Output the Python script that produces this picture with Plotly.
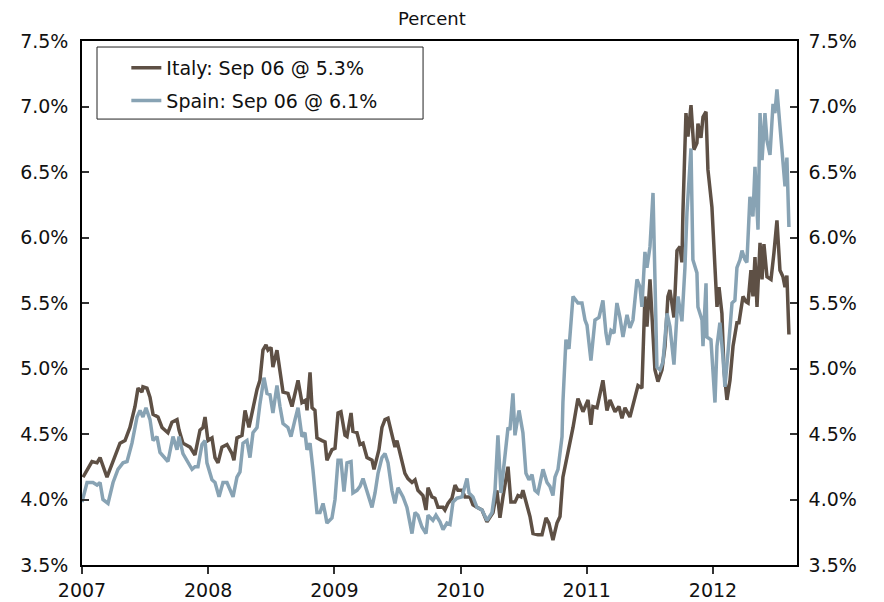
import plotly.graph_objects as go

# Decimal-year dates and 10y yields (percent)
italy_t = [2007.008, 2007.079, 2007.119, 2007.143, 2007.198, 2007.246, 2007.301, 2007.341, 2007.380, 2007.420,
           2007.444, 2007.475, 2007.483, 2007.515, 2007.539, 2007.563, 2007.602, 2007.634, 2007.681, 2007.713,
           2007.753, 2007.769, 2007.800, 2007.856, 2007.895, 2007.935, 2007.959, 2007.975, 2007.998, 2008.030,
           2008.054, 2008.078, 2008.109, 2008.149, 2008.189, 2008.204, 2008.228, 2008.268, 2008.292, 2008.323,
           2008.355, 2008.387, 2008.410, 2008.434, 2008.458, 2008.474, 2008.498, 2008.513, 2008.545, 2008.569,
           2008.593, 2008.632, 2008.664, 2008.712, 2008.743, 2008.775, 2008.783, 2008.807, 2008.823, 2008.846,
           2008.862, 2008.902, 2008.926, 2008.941, 2008.981, 2009.005, 2009.029, 2009.052, 2009.084, 2009.100,
           2009.132, 2009.147, 2009.179, 2009.203, 2009.227, 2009.258, 2009.298, 2009.314, 2009.338, 2009.353,
           2009.377, 2009.401, 2009.425, 2009.456, 2009.480, 2009.496, 2009.536, 2009.559, 2009.583, 2009.615,
           2009.639, 2009.662, 2009.702, 2009.726, 2009.742, 2009.773, 2009.797, 2009.821, 2009.861, 2009.876,
           2009.900, 2009.932, 2009.956, 2009.979, 2010.011, 2010.035, 2010.074, 2010.098, 2010.130, 2010.170,
           2010.209, 2010.233, 2010.257, 2010.288, 2010.312, 2010.336, 2010.376, 2010.399, 2010.431, 2010.455,
           2010.479, 2010.494, 2010.526, 2010.550, 2010.574, 2010.613, 2010.645, 2010.677, 2010.700, 2010.732,
           2010.764, 2010.788, 2010.811, 2010.851, 2010.891, 2010.930, 2010.970, 2011.010, 2011.033, 2011.049,
           2011.081, 2011.128, 2011.160, 2011.184, 2011.224, 2011.255, 2011.279, 2011.303, 2011.342, 2011.382,
           2011.406, 2011.437, 2011.461, 2011.477, 2011.501, 2011.540, 2011.564, 2011.596, 2011.620, 2011.643,
           2011.659, 2011.691, 2011.715, 2011.739, 2011.754, 2011.762, 2011.786, 2011.802, 2011.826, 2011.849,
           2011.873, 2011.881, 2011.905, 2011.921, 2011.945, 2011.960, 2011.992, 2012.016, 2012.032, 2012.048,
           2012.071, 2012.087, 2012.111, 2012.135, 2012.159, 2012.190, 2012.206, 2012.238, 2012.262, 2012.278,
           2012.301, 2012.317, 2012.333, 2012.349, 2012.373, 2012.389, 2012.404, 2012.428, 2012.460, 2012.483,
           2012.507, 2012.531, 2012.555, 2012.571, 2012.586, 2012.602]
italy_v = [4.17, 4.29, 4.28, 4.32, 4.17, 4.30, 4.43, 4.45, 4.55, 4.71,
           4.85, 4.82, 4.86, 4.85, 4.78, 4.65, 4.63, 4.55, 4.51, 4.59,
           4.61, 4.53, 4.43, 4.40, 4.34, 4.53, 4.55, 4.63, 4.45, 4.47,
           4.32, 4.28, 4.40, 4.42, 4.35, 4.30, 4.47, 4.49, 4.68, 4.55,
           4.70, 4.84, 4.91, 5.14, 5.18, 5.14, 5.16, 5.01, 5.14, 4.99,
           4.82, 4.81, 4.71, 4.91, 4.74, 4.76, 4.68, 4.97, 4.70, 4.68,
           4.47, 4.45, 4.44, 4.30, 4.38, 4.39, 4.66, 4.67, 4.49, 4.48,
           4.66, 4.52, 4.51, 4.42, 4.43, 4.32, 4.30, 4.23, 4.32, 4.38,
           4.55, 4.61, 4.62, 4.51, 4.40, 4.45, 4.30, 4.20, 4.16, 4.13,
           4.15, 4.07, 4.03, 3.92, 4.09, 4.02, 4.01, 3.94, 3.94, 3.92,
           3.97, 4.01, 4.11, 4.07, 4.07, 4.02, 4.02, 3.96, 3.94, 3.92,
           3.83, 3.86, 3.90, 4.07, 3.86, 4.02, 4.25, 3.98, 3.98, 4.03,
           4.02, 4.07, 3.94, 3.87, 3.74, 3.73, 3.73, 3.86, 3.82, 3.69,
           3.82, 3.87, 4.17, 4.35, 4.55, 4.77, 4.67, 4.76, 4.57, 4.71,
           4.70, 4.91, 4.68, 4.76, 4.67, 4.71, 4.62, 4.70, 4.63, 4.78,
           4.87, 4.85, 5.55, 5.32, 5.68, 4.99, 4.90, 4.99, 5.17, 5.55,
           5.60, 5.39, 5.90, 5.93, 5.81, 6.19, 6.95, 6.77, 7.01, 6.67,
           6.72, 6.87, 6.76, 6.92, 6.96, 6.52, 6.23, 5.77, 5.47, 5.62,
           5.42, 4.99, 4.76, 4.91, 5.17, 5.35, 5.35, 5.55, 5.51, 5.50,
           5.75, 5.55, 5.85, 5.47, 5.96, 5.68, 5.95, 5.70, 5.68, 5.88,
           6.13, 5.75, 5.70, 5.62, 5.71, 5.26]

spain_t = [2007.000, 2007.040, 2007.087, 2007.119, 2007.143, 2007.166, 2007.206, 2007.246, 2007.285, 2007.325,
           2007.357, 2007.396, 2007.436, 2007.460, 2007.483, 2007.507, 2007.539, 2007.563, 2007.594, 2007.618,
           2007.681, 2007.721, 2007.753, 2007.769, 2007.800, 2007.872, 2007.895, 2007.919, 2007.951, 2007.975,
           2007.990, 2008.030, 2008.054, 2008.086, 2008.117, 2008.149, 2008.197, 2008.228, 2008.252, 2008.276,
           2008.307, 2008.331, 2008.355, 2008.387, 2008.410, 2008.442, 2008.466, 2008.490, 2008.513, 2008.545,
           2008.569, 2008.593, 2008.632, 2008.656, 2008.688, 2008.712, 2008.743, 2008.767, 2008.783, 2008.807,
           2008.830, 2008.846, 2008.862, 2008.886, 2008.910, 2008.926, 2008.941, 2008.981, 2009.005, 2009.029,
           2009.052, 2009.076, 2009.100, 2009.132, 2009.147, 2009.179, 2009.203, 2009.227, 2009.258, 2009.298,
           2009.322, 2009.346, 2009.377, 2009.401, 2009.425, 2009.456, 2009.480, 2009.504, 2009.544, 2009.575,
           2009.615, 2009.639, 2009.662, 2009.694, 2009.726, 2009.742, 2009.781, 2009.805, 2009.837, 2009.861,
           2009.892, 2009.916, 2009.940, 2009.971, 2010.011, 2010.035, 2010.051, 2010.067, 2010.098, 2010.130,
           2010.170, 2010.209, 2010.249, 2010.273, 2010.296, 2010.320, 2010.352, 2010.376, 2010.391, 2010.415,
           2010.431, 2010.463, 2010.494, 2010.518, 2010.542, 2010.566, 2010.589, 2010.613, 2010.653, 2010.685,
           2010.708, 2010.732, 2010.748, 2010.772, 2010.804, 2010.811, 2010.835, 2010.859, 2010.891, 2010.930,
           2010.962, 2010.986, 2011.002, 2011.033, 2011.065, 2011.097, 2011.128, 2011.152, 2011.168, 2011.192,
           2011.216, 2011.239, 2011.263, 2011.287, 2011.319, 2011.342, 2011.366, 2011.398, 2011.422, 2011.437,
           2011.461, 2011.477, 2011.501, 2011.525, 2011.556, 2011.580, 2011.604, 2011.636, 2011.659, 2011.691,
           2011.723, 2011.754, 2011.778, 2011.794, 2011.826, 2011.841, 2011.873, 2011.881, 2011.913, 2011.921,
           2011.945, 2011.952, 2011.984, 2012.000, 2012.016, 2012.032, 2012.055, 2012.079, 2012.095, 2012.119,
           2012.151, 2012.174, 2012.190, 2012.214, 2012.230, 2012.254, 2012.269, 2012.293, 2012.317, 2012.333,
           2012.357, 2012.373, 2012.389, 2012.412, 2012.428, 2012.452, 2012.476, 2012.491, 2012.507, 2012.531,
           2012.555, 2012.571, 2012.586, 2012.602]
spain_v = [3.98, 4.13, 4.13, 4.11, 4.13, 4.00, 3.97, 4.13, 4.23, 4.28,
           4.29, 4.43, 4.63, 4.68, 4.63, 4.70, 4.61, 4.45, 4.48, 4.36,
           4.29, 4.48, 4.38, 4.48, 4.35, 4.23, 4.25, 4.25, 4.42, 4.45,
           4.28, 4.15, 4.13, 4.02, 4.13, 4.13, 4.02, 4.17, 4.21, 4.43,
           4.45, 4.32, 4.51, 4.55, 4.73, 4.93, 4.81, 4.80, 4.66, 4.87,
           4.71, 4.58, 4.55, 4.48, 4.61, 4.70, 4.48, 4.51, 4.38, 4.43,
           4.23, 4.07, 3.90, 3.90, 3.97, 3.90, 3.82, 3.86, 4.00, 4.30,
           4.30, 4.06, 4.28, 4.29, 4.05, 4.07, 4.10, 4.16, 4.06, 3.94,
           4.05, 4.20, 4.32, 4.35, 4.28, 4.07, 3.97, 4.09, 4.02, 3.94,
           3.74, 3.90, 3.88, 3.79, 3.74, 3.88, 3.84, 3.88, 3.83, 3.77,
           3.82, 3.81, 3.98, 4.01, 4.02, 4.11, 4.16, 4.05, 4.02, 3.94,
           3.92, 3.84, 3.90, 4.07, 4.49, 4.05, 4.32, 4.55, 4.53, 4.81,
           4.49, 4.68, 4.51, 4.20, 4.15, 4.19, 4.07, 4.05, 4.23, 4.13,
           4.10, 4.03, 4.17, 4.23, 4.48, 4.74, 5.22, 5.15, 5.55, 5.50,
           5.50, 5.37, 5.33, 5.06, 5.37, 5.39, 5.52, 5.27, 5.18, 5.29,
           5.27, 5.50, 5.39, 5.24, 5.41, 5.31, 5.37, 5.68, 5.62, 5.47,
           5.89, 5.77, 5.93, 6.34, 5.01, 4.99, 5.05, 5.42, 5.32, 5.03,
           5.55, 5.36, 5.77, 6.19, 6.68, 5.83, 5.73, 5.47, 5.37, 5.17,
           5.65, 5.24, 5.22, 4.97, 4.74, 5.17, 5.35, 5.09, 4.86, 5.12,
           5.50, 5.52, 5.77, 5.83, 5.90, 5.83, 5.81, 6.31, 6.16, 6.54,
           6.06, 6.95, 6.59, 6.95, 6.74, 6.63, 7.02, 6.95, 7.13, 6.85,
           6.57, 6.39, 6.61, 6.08]

year_ticks = [2007, 2008, 2009, 2010, 2011, 2012]
year_labels = ["2007", "2008", "2009", "2010", "2011", "2012"]
y_ticks = [3.5, 4.0, 4.5, 5.0, 5.5, 6.0, 6.5, 7.0, 7.5]
y_labels = ["3.5%", "4.0%", "4.5%", "5.0%", "5.5%", "6.0%", "6.5%", "7.0%", "7.5%"]

FONT = "Verdana, DejaVu Sans, sans-serif"
ITALY_C = "#5E5045"
SPAIN_C = "#88A3B4"

fig = go.Figure()
fig.add_trace(go.Scatter(x=italy_t, y=italy_v, mode="lines", name="Italy: Sep 06 @ 5.3%",
                         line=dict(color=ITALY_C, width=3.5), legendgroup="it", yaxis="y"))
fig.add_trace(go.Scatter(x=spain_t, y=spain_v, mode="lines", name="Spain: Sep 06 @ 6.1%",
                         line=dict(color=SPAIN_C, width=3.5), legendgroup="es", yaxis="y2"))

axis_common = dict(range=[3.5, 7.5], tickvals=y_ticks, ticktext=y_labels, showgrid=False,
                   zeroline=False, ticks="inside", ticklen=7, tickcolor="#333", tickwidth=1.5,
                   showline=True, linecolor="black", linewidth=1.5, automargin=False,
                   tickfont=dict(family=FONT, size=19, color="#111"))

fig.update_layout(
    width=884, height=602,
    margin=dict(l=74, r=95, t=33, b=45),
    paper_bgcolor="white", plot_bgcolor="white",
    font=dict(family=FONT, size=19, color="#111"),
    showlegend=True,
    legend=dict(x=0.062, y=0.985, xanchor="left", yanchor="top", bgcolor="rgba(0,0,0,0)",
                borderwidth=0, traceorder="grouped", tracegroupgap=5,
                font=dict(family=FONT, size=19, color="#111")),
    xaxis=dict(range=[2007, 2012.666], tickvals=year_ticks, ticktext=year_labels, showgrid=False,
               zeroline=False, ticks="outside", ticklen=7, tickcolor="#333", tickwidth=1.5,
               showline=True, linecolor="black", linewidth=1.5, mirror=True, automargin=False,
               tickfont=dict(family=FONT, size=19, color="#111")),
    yaxis=dict(side="left", ticklabelstandoff=8, **axis_common),
    yaxis2=dict(side="right", overlaying="y", ticklabelstandoff=6, **axis_common),
    shapes=[dict(type="rect", xref="paper", yref="paper", x0=0.021, x1=0.477, y0=0.851, y1=0.9885,
                 line=dict(color="#222", width=1), fillcolor="rgba(0,0,0,0)", layer="above")],
    annotations=[dict(text="Percent", xref="paper", yref="paper", x=0.49, y=1.0, yshift=10,
                      xanchor="center", yanchor="bottom", showarrow=False,
                      font=dict(family=FONT, size=18, color="#111"))],
)

fig.write_html("out.html")
